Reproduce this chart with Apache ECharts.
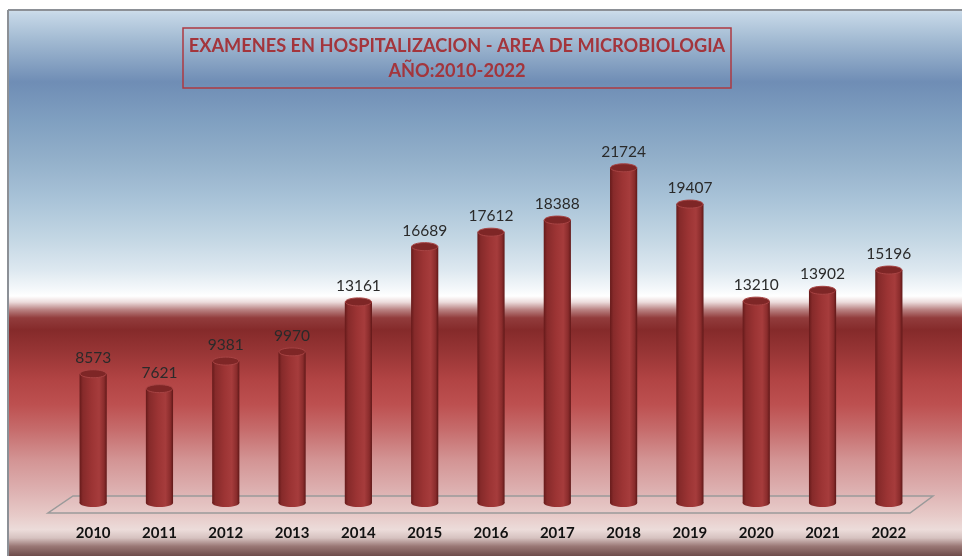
<!DOCTYPE html>
<html>
<head>
<meta charset="utf-8">
<script src="https://cdn.jsdelivr.net/npm/echarts@6/dist/echarts.min.js"></script>
<style>
html,body{margin:0;padding:0;background:#fff;}
#c{width:962px;height:556px;}
</style>
</head>
<body>
<div id="c"></div>
<script>
// ---- data ----
const years = ['2010','2011','2012','2013','2014','2015','2016','2017','2018','2019','2020','2021','2022'];
const exams = [8573, 7621, 9381, 9970, 13161, 16689, 17612, 18388, 21724, 19407, 13210, 13902, 15196];
const titleLines = ['EXAMENES EN HOSPITALIZACION - AREA DE MICROBIOLOGIA', 'AÑO:2010-2022'];

const chart = echarts.init(document.getElementById('c'), null, {renderer: 'canvas'});

const bgGrad = new echarts.graphic.LinearGradient(0, 0, 0, 1, [
  {offset: 0.000, color: '#cfdeea'},
  {offset: 0.009, color: '#c4d6e6'},
  {offset: 0.055, color: '#a2bad2'},
  {offset: 0.132, color: '#6f8db5'},
  {offset: 0.200, color: '#7f9fc0'},
  {offset: 0.275, color: '#93b0ca'},
  {offset: 0.348, color: '#a9c3d8'},
  {offset: 0.421, color: '#c4d7e4'},
  {offset: 0.476, color: '#dde8f0'},
  {offset: 0.509, color: '#f3f7fa'},
  {offset: 0.524, color: '#ffffff'},
  {offset: 0.535, color: '#ecdcdc'},
  {offset: 0.549, color: '#b98282'},
  {offset: 0.564, color: '#923c3c'},
  {offset: 0.586, color: '#852a2a'},
  {offset: 0.623, color: '#963434'},
  {offset: 0.678, color: '#b24444'},
  {offset: 0.723, color: '#bd5050'},
  {offset: 0.769, color: '#c66c6c'},
  {offset: 0.824, color: '#d39494'},
  {offset: 0.879, color: '#ddb0b0'},
  {offset: 0.925, color: '#e7cac8'},
  {offset: 0.952, color: '#ecdcda'},
  {offset: 0.967, color: '#d6c2c0'},
  {offset: 0.982, color: '#9a7876'},
  {offset: 1.000, color: '#6e4c4a'}
]);

function bodyGrad() {
  return new echarts.graphic.LinearGradient(0, 0, 1, 0, [
    {offset: 0, color: '#661a1a'},
    {offset: 0.12, color: '#862a2a'},
    {offset: 0.45, color: '#9c3434'},
    {offset: 0.72, color: '#a63c3c'},
    {offset: 0.9, color: '#8a2c2c'},
    {offset: 1, color: '#601818'}
  ]);
}

const option = {
  animation: false,
  grid: {left: 60, width: 862, top: 116.5, height: 391.5},
  xAxis: {
    type: 'category',
    data: years,
    axisLine: {show: false},
    axisTick: {show: false},
    axisLabel: {
      margin: 18,
      fontFamily: 'Lato',
      fontWeight: 'bold',
      fontSize: 15,
      color: '#111'
    }
  },
  yAxis: {
    type: 'value', min: 0, max: 25000, show: false, splitLine: {show: false}
  },
  graphic: [
    {type: 'rect', z: -100, shape: {x: 8, y: 10, width: 954, height: 546}, style: {fill: bgGrad}},
    {type: 'line', z: -90, shape: {x1: 8, y1: 10, x2: 962, y2: 10}, style: {stroke: '#8c9096', lineWidth: 2}},
    {type: 'line', z: -90, shape: {x1: 8, y1: 10, x2: 8, y2: 556}, style: {stroke: '#8c9096', lineWidth: 2}},
    {type: 'polygon', z: -80, shape: {points: [[48, 513], [910, 513], [933, 496], [73, 496]]},
      style: {fill: 'rgba(255,255,255,0.06)', stroke: '#9a9a9a', lineWidth: 1.5}},
    {type: 'rect', z: -70, shape: {x: 183, y: 28, width: 548, height: 60},
      style: {fill: 'rgba(0,0,0,0)', stroke: '#ad3a42', lineWidth: 1.5}},
    {type: 'text', z: -60, x: 457, y: 46,
      style: {text: titleLines[0], fill: '#a3353c', font: 'bold 18.2px Lato', textAlign: 'center', textVerticalAlign: 'middle'}},
    {type: 'text', z: -60, x: 457, y: 71,
      style: {text: titleLines[1], fill: '#a3353c', font: 'bold 18.2px Lato', textAlign: 'center', textVerticalAlign: 'middle'}}
  ],
  series: [{
    type: 'custom',
    data: exams.map((v, i) => [i, v]),
    renderItem: function (params, api) {
      const idx = api.value(0);
      const val = api.value(1);
      const top = api.coord([idx, val]);
      const base = api.coord([idx, 0]);
      const w = api.size([1, 0])[0] * 0.41;
      const rx = w / 2, ry = 4;
      const cx = top[0];
      const by = base[1] - 5;
      return {
        type: 'group',
        children: [
          {type: 'ellipse', shape: {cx: cx, cy: by, rx: rx, ry: ry}, style: {fill: bodyGrad()}},
          {type: 'rect', shape: {x: cx - rx, y: top[1], width: w, height: by - top[1]}, style: {fill: bodyGrad()}},
          {type: 'ellipse', shape: {cx: cx, cy: top[1], rx: rx - 0.5, ry: ry},
            style: {fill: '#7e2626', stroke: '#a84444', lineWidth: 1}},
          {type: 'text', x: cx, y: top[1] - 8,
            style: {text: String(val), fill: '#2a2a2a', font: '15.5px Lato', textAlign: 'center', textVerticalAlign: 'bottom'}}
        ]
      };
    }
  }]
};
chart.setOption(option);
</script>
</body>
</html>
